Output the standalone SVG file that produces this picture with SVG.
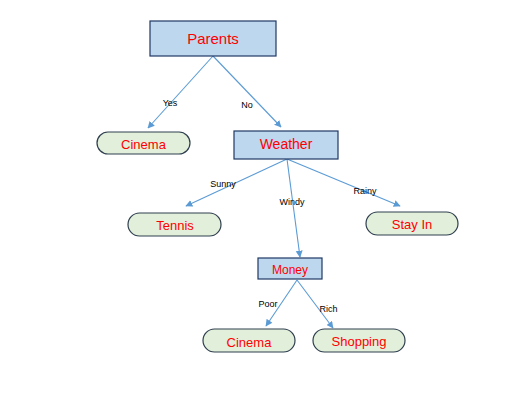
<svg xmlns="http://www.w3.org/2000/svg" width="507" height="405" viewBox="0 0 507 405">
<defs>
<style>
.box{fill:#BDD7EE;stroke:#1F3864;stroke-width:1.2}
.pill{fill:#E2EFDA;stroke:#2F3F4F;stroke-width:1.2}
.t{font-family:"Liberation Sans",Arial,sans-serif;fill:#FF0000;text-anchor:middle}
.lbl{font-family:"Liberation Sans",Arial,sans-serif;font-size:9px;fill:#000;text-anchor:middle}
.edge{stroke:#5B9BD5;stroke-width:1.1;fill:none;marker-end:url(#arr)}
</style>
<marker id="arr" viewBox="0 0 10 10" refX="9" refY="5" markerWidth="7" markerHeight="7" markerUnits="userSpaceOnUse" orient="auto">
<path d="M0,0 L10,5 L0,10 z" fill="#5B9BD5"/>
</marker>
</defs>
<rect width="507" height="405" fill="#fff"/>
<g id="connectors">
<line class="edge" x1="213" y1="56" x2="148" y2="128"/>
<line class="edge" x1="213" y1="56" x2="281" y2="127"/>
<line class="edge" x1="287" y1="159" x2="186" y2="206"/>
<line class="edge" x1="287" y1="159" x2="400" y2="206"/>
<line class="edge" x1="287" y1="159" x2="300" y2="257"/>
<line class="edge" x1="297" y1="280" x2="266" y2="326"/>
<line class="edge" x1="297" y1="280" x2="333" y2="328"/>
<text class="lbl" x="170" y="106">Yes</text>
<text class="lbl" x="247" y="108">No</text>
<text class="lbl" x="223" y="187">Sunny</text>
<text class="lbl" x="292" y="204.5">Windy</text>
<text class="lbl" x="365" y="194">Rainy</text>
<text class="lbl" x="268" y="307">Poor</text>
<text class="lbl" x="328.5" y="312">Rich</text>
</g>
<g id="parents">
<rect class="box" x="150" y="21" width="126" height="35"/>
<text class="t" x="213" y="44" font-size="15">Parents</text>
</g>
<g id="cinema1">
<rect class="pill" x="97" y="132" width="93" height="22" rx="11"/>
<text class="t" x="143.5" y="149" font-size="13">Cinema</text>
</g>
<g id="weather">
<rect class="box" x="234" y="131" width="104" height="28"/>
<text class="t" x="286" y="149" font-size="14">Weather</text>
</g>
<g id="tennis">
<rect class="pill" x="128" y="213" width="93" height="23" rx="11.5"/>
<text class="t" x="175" y="230" font-size="13">Tennis</text>
</g>
<g id="stayin">
<rect class="pill" x="366" y="212" width="92" height="23" rx="11.5"/>
<text class="t" x="412" y="228.5" font-size="13">Stay In</text>
</g>
<g id="money">
<rect class="box" x="258" y="258" width="64" height="21"/>
<text class="t" x="290" y="273.5" font-size="12">Money</text>
</g>
<g id="cinema2">
<rect class="pill" x="203" y="329" width="92" height="23" rx="11.5"/>
<text class="t" x="249" y="346.5" font-size="13">Cinema</text>
</g>
<g id="shopping">
<rect class="pill" x="313" y="329" width="92" height="23" rx="11.5"/>
<text class="t" x="359" y="346" font-size="13">Shopping</text>
</g>
</svg>
